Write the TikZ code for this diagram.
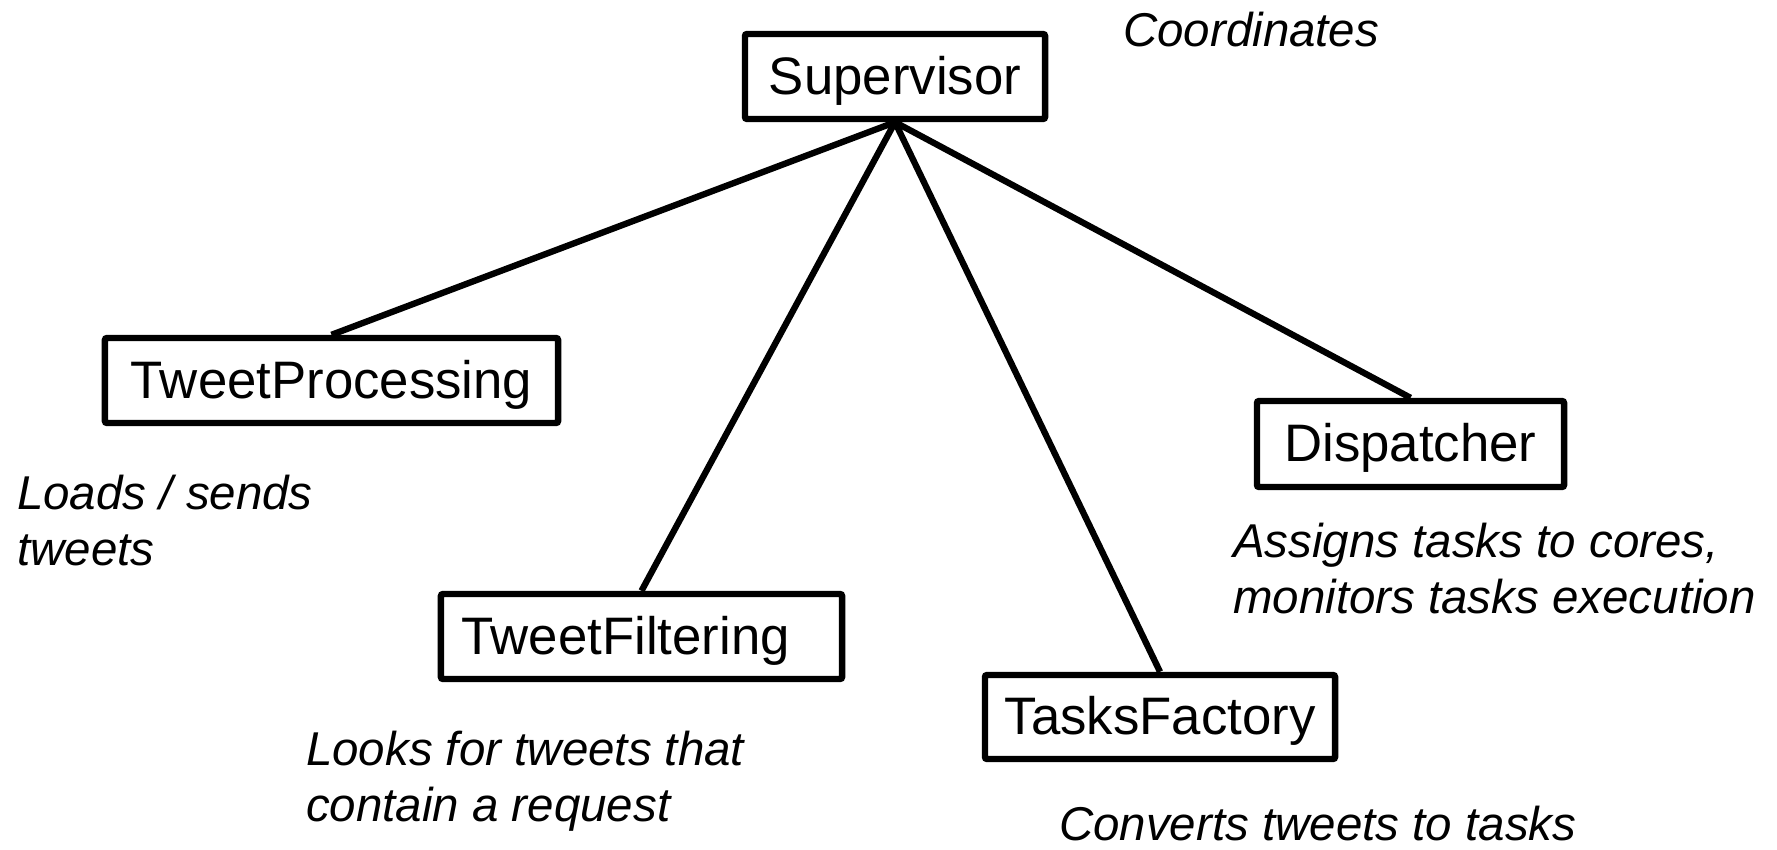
\documentclass[tikz,border=0pt]{standalone}
\usepackage{fontspec}
\setmainfont{Liberation Sans}
\usetikzlibrary{positioning, calc}

\begin{document}
\begin{tikzpicture}[x=0.01cm, y=-0.01cm,
		module/.style={draw, line width=1.8pt, rounded corners=0.6pt, inner sep=0pt, minimum height=0.85cm, text height=10.2pt, text depth=0pt, font=\fontsize{15}{18}\selectfont},
		remark/.style={anchor=north west, inner sep=0pt, align=left, font=\fontsize{13.5}{15.9}\selectfont\itshape},
		every path/.style={line width=1.8pt}]
		\useasboundingbox (0,0) rectangle (1777,849);
		\node[module, minimum width=3cm] (sup) at (895, 76.5) {Supervisor};
		\node[module, minimum width=4.53cm] (proc) at (331.5, 380.5) {TweetProcessing};
		\node[module, minimum width=3.07cm, minimum height=0.86cm] (disp) at (1410.5, 444) {Dispatcher};
		\node[module, minimum width=4.01cm, text width=3.6cm, align=left] (filt) at (641.5, 636.5) {TweetFiltering};
		\node[module, minimum width=3.5cm, minimum height=0.84cm] (fact) at (1160, 717) {TasksFactory};
		\draw (sup.south) -- (proc.north);
		\draw (sup.south) -- (filt.north);
		\draw (sup.south) -- (fact.north);
		\draw (sup.south) -- (disp.north);
		\node[remark] (supnote) at (1120, 9) {Coordinates};
		\node[remark] (procnote) at (14, 472) {Loads / sends\\tweets};
		\node[remark] (filtnote) at (303, 728) {Looks for tweets that\\contain a request};
		\node[remark] (dispnote) at (1230, 520) {Assigns tasks to cores,\\monitors tasks execution};
		\node[remark] (factnote) at (1056, 803) {Converts tweets to tasks};
	\end{tikzpicture}
\end{document}
